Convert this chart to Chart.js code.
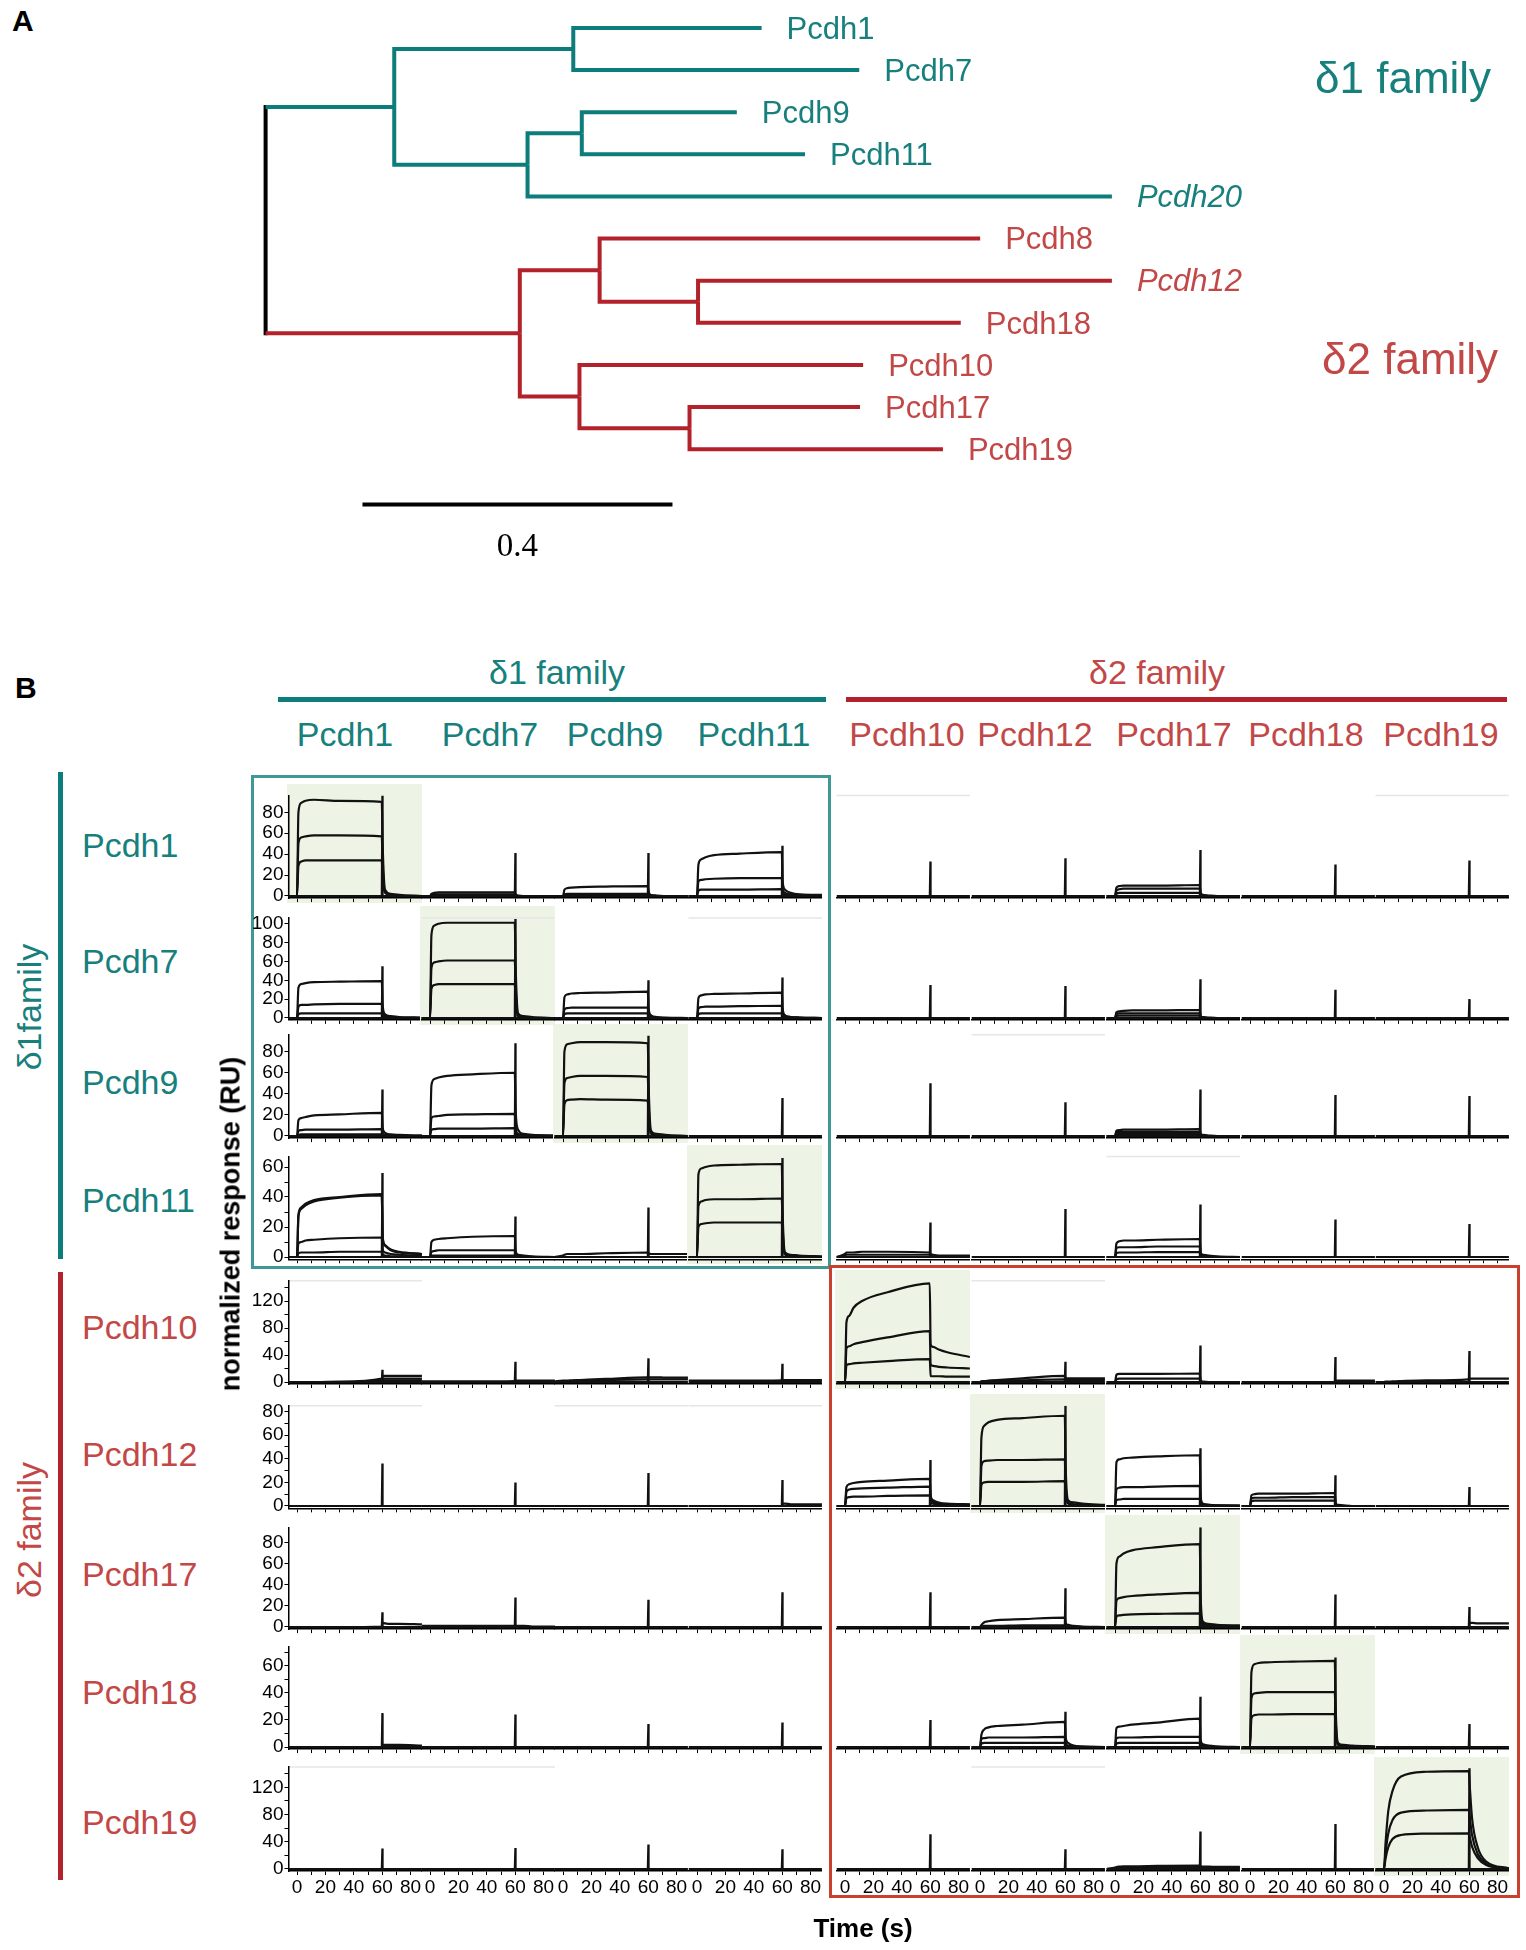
<!DOCTYPE html>
<html>
<head>
<meta charset="utf-8">
<script src="https://cdn.jsdelivr.net/npm/chart.js@4.4.1/dist/chart.umd.min.js"></script>
<style>
  html, body { margin: 0; padding: 0; background: #fff; }
  #page { position: relative; width: 1526px; height: 1950px; overflow: hidden;
          font-family: "Liberation Sans", Arial, sans-serif; }
  .txt { position: absolute; white-space: nowrap; line-height: 1; }
  .box { position: absolute; box-sizing: border-box; }
  canvas { position: absolute; }
</style>
</head>
<body>
<div id="page"></div>
<script>
// ---- A: tree data ----
const leafNames = ['Pcdh1', 'Pcdh7', 'Pcdh9', 'Pcdh11', 'Pcdh20', 'Pcdh8', 'Pcdh12', 'Pcdh18', 'Pcdh10', 'Pcdh17', 'Pcdh19'];
const leafItalic = [false, false, false, false, true, false, true, false, false, false, false];
const leafFamily = [1, 1, 1, 1, 1, 2, 2, 2, 2, 2, 2];
const leafDepth = [0.640, 0.766, 0.608, 0.696, 1.092, 0.922, 1.092, 0.897, 0.771, 0.767, 0.874];
// internal nodes: [child, child, depth]; leaves are 0..10, nodes continue from 11
const treeNodes = [
  [0, 1, 0.397],
  [2, 3, 0.408],
  [12, 4, 0.338],
  [11, 13, 0.166],
  [6, 7, 0.558],
  [5, 15, 0.431],
  [9, 10, 0.547],
  [8, 17, 0.405],
  [16, 18, 0.328],
  [14, 19, 0]
];
const scaleBarStart = 0.125;
const scaleBarLength = 0.4;
const scaleBarRow = 11.31;

// ---- B: SPR grid data ----
const proteins = ['Pcdh1', 'Pcdh7', 'Pcdh9', 'Pcdh11', 'Pcdh10', 'Pcdh12', 'Pcdh17', 'Pcdh18', 'Pcdh19'];
const proteinFamily = [1, 1, 1, 1, 2, 2, 2, 2, 2];
const timeGrid = [-6, 0, 1, 3, 6, 12, 30, 59.7, 60.3, 62, 66, 72, 88];
const baselineTrace = [0, 0, 0, 0, 0, 0, 0, 0, 0, 0, 0, 0, 0];
const spikeTimes = [59.6, 60, 60.4];
const xTickValues = [0, 10, 20, 30, 40, 50, 60, 70, 80];
const xTickLabels = [0, 20, 40, 60, 80];
const rowYMax = [96, 106, 96, 67, 150, 85, 95, 74, 150];
const rowYMin = [-2, -2, -2, -1.5, -3, -2, -2, -1.5, -3];
const rowTicks = [
  [0, 20, 40, 60, 80], [0, 20, 40, 60, 80, 100], [0, 20, 40, 60, 80],
  [0, 10, 20, 30, 40, 50, 60], [0, 20, 40, 60, 80, 100, 120, 140],
  [0, 10, 20, 30, 40, 50, 60, 70, 80], [0, 20, 40, 60, 80],
  [0, 10, 20, 30, 40, 50, 60, 70], [0, 20, 40, 60, 80, 100, 120, 140]
];
const rowTickLabels = [
  [0, 20, 40, 60, 80], [0, 20, 40, 60, 80, 100], [0, 20, 40, 60, 80], [0, 20, 40, 60],
  [0, 40, 80, 120], [0, 20, 40, 60, 80], [0, 20, 40, 60, 80], [0, 20, 40, 60], [0, 40, 80, 120]
];
// spike height at the end of injection, per row (analyte) and column (surface)
const spikeHeights = [
  [96, 41, 41, 48, 33, 36, 44, 30, 34],
  [55, 105, 40, 43, 35, 34, 41, 30, 20],
  [44, 88, 95, 36, 50, 32, 44, 39, 38],
  [56, 27, 33, 66, 23, 32, 35, 25, 22],
  [18, 30, 35, 27, 0, 30, 54, 37, 46],
  [36, 20, 28, 22, 39, 85, 49, 26, 16],
  [14, 28, 26, 33, 33, 37, 95, 31, 19],
  [25, 24, 17, 18, 20, 26, 37, 66, 17],
  [30, 31, 36, 29, 51, 29, 55, 66, 148]
];
// panels whose faint frame edge shows in the scan
const framedPanels = [[0, 4], [0, 8], [1, 1], [1, 3], [2, 5], [3, 6], [4, 0], [4, 5], [5, 0], [5, 2], [5, 3], [8, 0], [8, 1], [8, 5]];
// sensorgram values at timeGrid, one list of traces per column
const curvesPcdh1 = [
  [[0, 0, 80, 89, 91, 92, 91, 90, 50, 6, 2, 1, 0], [0, 0, 50, 56, 57, 58, 58, 57, 30, 4, 1, 0, 0], [0, 0, 29, 33, 34, 34, 34, 34, 18, 3, 1, 0, 0]],
  [[0, 0, 2, 3, 3.5, 3.5, 3.5, 3.5, 1.5, 0.5, 0, 0, 0], [0, 0, 1, 1.5, 1.5, 1.5, 1.5, 1.5, 0.5, 0, 0, 0, 0]],
  [[0, 0, 6, 7.5, 8, 8.5, 9, 9.5, 4, 1, 0.5, 0, 0], [0, 0, 1.5, 2, 2, 2, 2, 2, 1, 0.5, 0, 0, 0]],
  [[0, 0, 30, 35, 37, 39, 40.5, 42, 14, 6, 3, 1.5, 1], [0, 0, 14, 15.5, 16, 16.5, 17, 17, 7, 3, 1.5, 1, 0.5], [0, 0, 5, 6, 6, 6, 6, 6.5, 3, 1.5, 0.5, 0, 0]],
  [], [],
  [[0, 0, 8, 9.5, 10, 10, 10, 10.5, 3, 1, 0.5, 0, 0], [0, 0, 5, 6.5, 7, 7, 7, 7, 2, 1, 0, 0, 0], [0, 0, 2, 3, 3, 3, 3, 3, 1, 0, 0, 0, 0]],
  [], []
];
const curvesPcdh7 = [
  [[0, 0, 32, 36, 37, 38, 38.5, 39, 14, 4, 2, 1, 0.5], [0, 0, 12, 14, 14, 14.5, 15, 15, 5, 2, 1, 0.5, 0], [0, 0, 4, 5, 5, 5, 5, 5, 2, 1, 0, 0, 0]],
  [[0, 0, 88, 98, 100, 101, 101, 101, 55, 5, 2, 1, 0], [0, 0, 53, 59, 60, 61, 61, 61, 33, 3, 1, 0, 0], [0, 0, 31, 35, 36, 36, 36, 36, 20, 2, 1, 0, 0]],
  [[0, 0, 22, 25, 26, 26.5, 27, 28, 10, 3, 1, 0.5, 0], [0, 0, 9, 10.5, 11, 11, 11, 11, 4, 1.5, 0.5, 0, 0], [0, 0, 4, 5, 5, 5, 5, 5, 2, 1, 0, 0, 0]],
  [[0, 0, 21, 24, 25, 25.5, 26, 27, 10, 3, 1, 0.5, 0], [0, 0, 10, 11.5, 12, 12, 12.5, 13, 5, 2, 1, 0.5, 0], [0, 0, 4, 5, 5, 5, 5, 5, 2, 1, 0, 0, 0]],
  [], [],
  [[0, 0, 6, 7, 7.5, 8, 8, 8.5, 2, 1, 0.5, 0, 0], [0, 0, 4, 5, 5, 5, 5, 5, 1.5, 0.5, 0, 0, 0], [0, 0, 2, 2.5, 2.5, 2.5, 2.5, 2.5, 1, 0, 0, 0, 0]],
  [], []
];
const curvesPcdh9 = [
  [[0, 0, 15, 17, 18, 19.5, 20.5, 22, 8, 3, 1.5, 1, 0.5], [0, 0, 5, 5.5, 6, 6, 6, 6.5, 2, 1, 0.5, 0, 0], [0, 0, 1, 1.5, 1.5, 1.5, 1.5, 1.5, 1, 0.5, 0, 0, 0]],
  [[0, 0, 48, 54, 55.5, 57, 58.5, 60, 25, 6, 2, 1, 0.5], [0, 0, 17, 18.5, 19, 20, 20.5, 21, 8, 2, 1, 0.5, 0], [0, 0, 6, 6.5, 7, 7, 7, 7.5, 3, 1, 0.5, 0, 0]],
  [[0, 0, 80, 87, 88, 89, 89, 88, 48, 5, 2, 1, 0], [0, 0, 50, 55, 56, 57, 57, 56, 30, 3, 1, 0, 0], [0, 0, 30, 34, 34.5, 35, 34.5, 33.5, 18, 2, 1, 0, 0]],
  [], [], [],
  [[0, 0, 5, 5.5, 6, 6, 6, 6.5, 2, 1, 0.5, 0, 0], [0, 0, 3.5, 4, 4, 4, 4, 4, 1, 0.5, 0, 0, 0], [0, 0, 1.5, 2, 2, 2, 2, 2, 0.5, 0, 0, 0, 0]],
  [], []
];
const curvesPcdh11 = [
  [[0, 0, 28, 33, 35.5, 38, 40, 42, 14, 8, 5, 3.5, 2], [0, 0, 27, 32, 34.5, 37, 39.5, 41, 13, 7.5, 4.5, 3, 2], [0, 0, 9, 10, 11, 11.5, 12.5, 13, 5, 3, 2, 1.5, 1], [0, 0, 2.5, 3, 3, 3, 3.5, 3.5, 1.5, 1, 0.5, 0.5, 0]],
  [[0, 0, 10, 11.5, 12, 12.5, 13.5, 14, 4, 1.5, 1, 0.5, 0], [0, 0, 3.5, 4, 4.5, 4.5, 4.5, 4.5, 1.5, 0.5, 0, 0, 0], [0, 0, 1, 1, 1, 1, 1, 1, 0.5, 0, 0, 0, 0]],
  [[0, 1, 1.5, 2, 2, 2, 2.5, 3, 2.5, 2, 2, 2, 2]],
  [[0, 0, 55, 59, 60, 61, 61.5, 62, 30, 3, 1.5, 1, 0.5], [0, 0, 34, 37, 38, 38.5, 38.5, 39, 20, 2, 1, 0.5, 0], [0, 0, 20, 22, 22.5, 23, 23, 23, 12, 1.5, 0.5, 0, 0]],
  [[0, 2, 3, 3, 3, 3.5, 3.5, 3, 2, 1.5, 1, 1, 1], [0, 1, 1.5, 1.5, 1.5, 1.5, 1.5, 1.5, 1, 0.5, 0.5, 0.5, 0.5]],
  [],
  [[0, 0, 9, 10.5, 11, 11, 11.5, 12, 3, 1.5, 1, 0.5, 0], [0, 0, 6, 6.5, 6.5, 6.5, 7, 7, 2, 1, 0.5, 0, 0], [0, 0, 2.5, 3, 3, 3, 3.3, 3.3, 1, 0.5, 0, 0, 0]],
  [], []
];
const curvesPcdh10 = [
  [[0, 0, 0, 0, 0, 0, 0.5, 5, 9, 9, 9, 9, 9], [0, 0, 0, 0, 0, 0, 0, 3, 5, 5, 5, 5, 5], [0, 0, 0, 0, 0, 0, 0, 1.5, 2.5, 2.5, 2.5, 2.5, 2.5]],
  [[1, 1, 1, 1, 1, 1, 1, 1.5, 2, 2, 2, 2, 2]],
  [[1, 2, 2, 2, 2.5, 3, 4.5, 7, 7, 7, 7, 6.5, 6.5], [0, 1, 1, 1, 1.5, 2, 3, 4, 4, 4, 4, 4, 4]],
  [[2, 2, 2, 2, 2, 2, 2, 2.5, 3, 3, 3, 3, 3]],
  [[0, 0, 88, 98, 110, 120, 133, 146, 56, 52, 48, 44, 37], [0, 0, 50, 53, 56, 59, 66, 75.5, 26, 24, 22.5, 21.5, 20], [0, 0, 25, 26.5, 27.5, 28.5, 31, 34, 9, 8.5, 8.5, 8, 8]],
  [[0, 0, 1, 1.5, 2, 3, 5.5, 9, 6, 5.5, 5.5, 5.5, 5.5], [0, 0, 0.5, 1, 1, 1.5, 2.5, 4, 3, 3, 3, 3, 3]],
  [[0, 0, 11, 12, 12, 12, 12, 12.5, 1, 0.5, 0, 0, 0], [0, 0, 4, 5, 5, 5, 5, 5, 1, 0, 0, 0, 0]],
  [[0, 0, 0, 0, 0, 0, 0, 0, 2, 2, 2, 2, 2]],
  [[0, 0, 0.5, 0.5, 1, 1.5, 2.5, 4, 5, 5, 5, 5, 5]]
];
const curvesPcdh12 = [
  [], [], [],
  [[0, 0, 0, 0, 0, 0, 0, 0, 2, 2, 1.5, 1.5, 1.5]],
  [[0, 0, 16, 18.5, 19.5, 20.5, 21.5, 23, 9, 5, 3, 2, 1.5], [0, 0, 12, 14, 14.5, 15, 15.5, 16.5, 6, 3.5, 2, 1.5, 1], [0, 0, 6.5, 7.5, 8, 8, 8.5, 9, 3, 2, 1, 1, 0.5]],
  [[0, 0, 58, 68, 71, 73, 74.5, 76.5, 35, 5, 3, 2, 1], [0, 0, 34, 38, 38.5, 39, 39, 39.5, 18, 3, 1.5, 1, 0.5], [0, 0, 18, 20, 20.5, 20.5, 20.5, 21, 10, 2, 1, 0.5, 0]],
  [[0, 0, 37, 39.5, 40.5, 41, 42, 43, 8, 2, 1, 0.5, 0.5], [0, 0, 14, 15.5, 16, 16, 16.5, 17, 5, 1.5, 1, 0.5, 0], [0, 0, 5, 5.5, 6, 6, 6, 6, 2, 1, 0.5, 0, 0]],
  [[0, 0, 9, 10, 10.5, 10.5, 10.5, 11, 2, 1, 0.5, 0, 0], [0, 0, 6.5, 7, 7, 7, 7.5, 7.5, 1.5, 0.5, 0, 0, 0], [0, 0, 4, 4.5, 4.5, 4.5, 4.5, 4.5, 1, 0, 0, 0, 0]],
  []
];
const curvesPcdh17 = [
  [[0, 0, 0, 0, 0, 0, 0, 0.5, 4, 3.5, 3, 3, 2.5]],
  [[1, 1, 1, 1, 1, 1, 1, 1, 1, 1, 1, 0.5, 0.5]],
  [], [], [],
  [[0, 0, 2, 4.5, 5.5, 6.5, 7.5, 9, 4, 2, 1, 0.5, 0], [0, 0, 0.5, 1, 1, 1, 1.5, 1.5, 1, 0.5, 0, 0, 0]],
  [[0, 0, 60, 67, 70, 73, 76, 79, 30, 5, 3, 2, 1.5], [0, 0, 25, 27.5, 28.5, 29.5, 31, 32.5, 14, 3, 1.5, 1, 0.5], [0, 0, 10, 11, 11.5, 12, 12.5, 13, 5, 1.5, 1, 0.5, 0]],
  [],
  [[0, 0, 0, 0, 0, 0, 0, 0, 4, 4, 3.5, 3.5, 3.5]]
];
const curvesPcdh18 = [
  [[0, 0, 0, 0, 0, 0, 0, 0, 1.5, 1.5, 1.5, 1.5, 1]],
  [], [], [], [],
  [[0, 0, 9, 13, 14.5, 15.5, 16.5, 18.5, 7, 3, 1, 0.5, 0], [0, 0, 6, 6.5, 7, 7, 7, 7.5, 3, 1, 0.5, 0, 0], [0, 0, 2.5, 3, 3, 3, 3, 3, 1, 0.5, 0, 0, 0]],
  [[0, 0, 14, 15, 15.5, 16.5, 18, 21, 5, 2, 1, 0.5, 0], [0, 0, 6.5, 7, 7, 7, 7.5, 7.5, 2, 1, 0.5, 0, 0], [0, 0, 2.5, 3, 3, 3, 3, 3, 1, 0.5, 0, 0, 0]],
  [[0, 0, 55, 61, 62, 62.5, 63, 63.5, 30, 3, 1.5, 1, 0.5], [0, 0, 36, 39.5, 40, 40.5, 40.5, 40.5, 20, 2, 1, 0.5, 0], [0, 0, 21, 23.5, 24, 24, 24.3, 24.3, 12, 1.5, 0.5, 0, 0]],
  []
];
const curvesPcdh19 = [
  [], [], [], [], [], [],
  [[0, 2, 3, 3.5, 4, 4, 4.5, 5, 4, 3.5, 3.5, 3, 3], [0, 1, 1.5, 2, 2, 2, 2.5, 3, 2, 2, 1.5, 1.5, 1.5]],
  [],
  [[0, 0, 35, 85, 115, 136, 143, 144, 125, 75, 32, 11, 1], [0, 0, 22, 52, 72, 83, 86, 87, 78, 50, 22, 8, 0.5], [0, 0, 14, 32, 44, 50, 52, 52.5, 48, 33, 16, 6, 0]]
];
const panelCurves = [curvesPcdh1, curvesPcdh7, curvesPcdh9, curvesPcdh11, curvesPcdh10, curvesPcdh12, curvesPcdh17, curvesPcdh18, curvesPcdh19];

// ---- layout ----
const TEAL = '#17807d', TEAL_LINE = '#0c7d7a', TEAL_BOX = '#3f9896';
const RED = '#c24848', RED_LINE = '#b3222b', RED_BOX = '#c9402f';
const SHADE = '#edf3e5';
const FONT = '"Liberation Sans", Arial, sans-serif';
const colZeroPx = [297, 430, 563, 697, 845, 980, 1115, 1250, 1384];
const rowZeroPx = [896, 1018, 1136, 1257, 1382, 1506, 1627, 1747, 1869];
const rowPxPerUnit = [1.046, 0.943, 1.054, 1.5, 0.675, 1.18, 1.05, 1.355, 0.68];
const secPx = 1.42, xMin = -6, xMax = 88;

Chart.defaults.font.family = FONT;
Chart.defaults.color = '#000';

const page = document.getElementById('page');

function addText(str, x, baseline, size, color, o = {}) {
  const d = document.createElement('div');
  d.className = 'txt';
  d.textContent = str;
  d.style.fontSize = size + 'px';
  d.style.color = color;
  if (o.family) d.style.fontFamily = o.family;
  if (o.bold) d.style.fontWeight = 'bold';
  if (o.italic) d.style.fontStyle = 'italic';
  d.style.top = (baseline - (o.asc || 0.8465) * size) + 'px';
  d.style.left = x + 'px';
  if (o.center) d.style.transform = 'translateX(-50%)';
  page.appendChild(d);
  return d;
}

function addRotated(str, cx, cy, size, color, bold) {
  const d = document.createElement('div');
  d.className = 'txt';
  d.textContent = str;
  d.style.fontSize = size + 'px';
  d.style.color = color;
  if (bold) d.style.fontWeight = 'bold';
  d.style.left = cx + 'px';
  d.style.top = cy + 'px';
  d.style.transform = 'translate(-50%, -50%) rotate(-90deg)';
  page.appendChild(d);
}

function addBox(left, top, w, h, css) {
  const d = document.createElement('div');
  d.className = 'box';
  Object.assign(d.style, { left: left + 'px', top: top + 'px', width: w + 'px', height: h + 'px' }, css);
  page.appendChild(d);
}

function addCanvas(left, top, w, h) {
  const c = document.createElement('canvas');
  c.width = w; c.height = h;
  c.style.left = left + 'px'; c.style.top = top + 'px';
  c.style.width = w + 'px'; c.style.height = h + 'px';
  page.appendChild(c);
  return c;
}

// ---- A: dendrogram ----
function buildTree() {
  const nodeY = leafNames.map((_, i) => i);
  const nodeDepth = leafDepth.slice();
  const nodeFam = leafFamily.slice();
  treeNodes.forEach(([a, b, d]) => {
    nodeY.push((nodeY[a] + nodeY[b]) / 2);
    nodeDepth.push(d);
    nodeFam.push(nodeFam[a] === nodeFam[b] ? nodeFam[a] : 0);
  });
  const famColor = f => f === 1 ? TEAL_LINE : f === 2 ? RED_LINE : '#000';
  const line = (pts, color, cap) => ({
    data: pts.map(([x, y]) => ({ x, y })), showLine: true, borderColor: color, borderWidth: 4,
    pointRadius: 0, borderJoinStyle: 'miter', borderCapStyle: cap || 'butt', clip: false
  });
  const datasets = [];
  treeNodes.forEach(([a, b, d], j) => {
    const k = leafNames.length + j;
    [a, b].forEach(ch => {
      if (nodeFam[k] === 0) {
        datasets.push(line([[d, nodeY[ch]], [nodeDepth[ch], nodeY[ch]]], famColor(nodeFam[ch])));
      } else {
        datasets.push(line([[d, nodeY[k]], [d, nodeY[ch]], [nodeDepth[ch], nodeY[ch]]], famColor(nodeFam[k])));
      }
    });
    if (nodeFam[k] === 0) datasets.push(line([[d, nodeY[a]], [d, nodeY[b]]], '#000', 'square'));
  });
  datasets.push(line([[scaleBarStart, scaleBarRow], [scaleBarStart + scaleBarLength, scaleBarRow]], '#000'));

  const canvas = addCanvas(0, 0, 1526, 600);
  const chart = new Chart(canvas, {
    type: 'scatter',
    data: { datasets },
    options: {
      responsive: false, animation: false, events: [],
      layout: { padding: { left: 265.6, right: 97.9, top: 27.9, bottom: 24.4 } },
      plugins: { legend: { display: false }, tooltip: { enabled: false } },
      scales: {
        x: { type: 'linear', min: 0, max: 1.5, display: false },
        y: { type: 'linear', min: 0, max: 13, reverse: true, display: false }
      }
    }
  });
  const xs = chart.scales.x, ys = chart.scales.y;
  leafNames.forEach((name, i) => {
    addText(name, xs.getPixelForValue(leafDepth[i]) + 25, ys.getPixelForValue(i) + 11, 31,
      leafFamily[i] === 1 ? TEAL : RED, { italic: leafItalic[i] });
  });
  addText(String(scaleBarLength), xs.getPixelForValue(scaleBarStart + scaleBarLength / 2),
    ys.getPixelForValue(scaleBarRow) + 52.6, 33, '#000',
    { center: true, family: '"Liberation Serif", "Times New Roman", serif', asc: 0.8375 });
}

// ---- B: one small sensorgram ----
const shadePlugin = {
  id: 'shade',
  beforeDraw(chart, args, opts) {
    const { ctx, chartArea, scales: { x, y } } = chart;
    ctx.save();
    if (opts.on) {
      ctx.fillStyle = SHADE;
      ctx.fillRect(x.getPixelForValue(0) - 10, y.getPixelForValue(0) - 112, 135, 119);
    }
    if (opts.frame) {
      ctx.strokeStyle = '#e6e6e6';
      ctx.lineWidth = 1.5;
      ctx.beginPath();
      ctx.moveTo(chartArea.left, chartArea.top);
      ctx.lineTo(chartArea.right, chartArea.top);
      ctx.stroke();
    }
    ctx.restore();
  }
};

function buildPanel(r, c) {
  const x0 = colZeroPx[c], y0 = rowZeroPx[r], ppu = rowPxPerUnit[r];
  const areaL = x0 + xMin * secPx, areaR = x0 + xMax * secPx;
  const areaT = y0 - rowYMax[r] * ppu, areaB = y0 - rowYMin[r] * ppu;
  const cl = Math.floor(areaL - 50), ct = Math.floor(areaT - 16);
  const cw = Math.ceil(areaR + 8 - cl), chh = Math.ceil(areaB + 34 - ct);
  const padL = areaL - cl, padT = areaT - ct;
  const padR = cw - (areaR - cl), padB = chh - (areaB - ct);
  const canvas = addCanvas(cl, ct, cw, chh);
  const showY = c === 0;
  const framed = framedPanels.some(([fr, fc]) => fr === r && fc === c);

  const trace = (vals, w) => ({
    data: timeGrid.map((t, i) => ({ x: t, y: vals[i] })), showLine: true,
    borderColor: '#111', borderWidth: w, pointRadius: 0, cubicInterpolationMode: 'monotone'
  });
  const datasets = [trace(baselineTrace, 2.2)];
  panelCurves[r][c].forEach(v => datasets.push(trace(v, 2.2)));
  const h = spikeHeights[r][c];
  if (h > 0) {
    datasets.push({
      data: spikeTimes.map((t, i) => ({ x: t, y: i === 1 ? h : 0 })), showLine: true,
      borderColor: '#111', borderWidth: 1.8, pointRadius: 0, tension: 0
    });
  }

  const tickFont = { size: 19, family: FONT };
  const yScale = {
    type: 'linear', min: rowYMin[r], max: rowYMax[r], display: showY,
    border: { display: true, color: '#000', width: 1.5 },
    grid: { drawOnChartArea: false, drawTicks: true, tickLength: 4, color: '#000', lineWidth: 1 },
    ticks: {
      autoSkip: false, padding: 1, font: tickFont, color: '#000',
      callback: v => rowTickLabels[r].includes(v) ? String(v) : ''
    },
    afterBuildTicks: ax => { ax.ticks = rowTicks[r].map(v => ({ value: v })); }
  };
  if (showY) yScale.afterFit = ax => { ax.width = padL; };

  new Chart(canvas, {
    type: 'scatter',
    data: { datasets },
    plugins: [shadePlugin],
    options: {
      responsive: false, animation: false, events: [],
      layout: { padding: { left: showY ? 0 : padL, right: padR, top: padT, bottom: 0 } },
      plugins: { legend: { display: false }, tooltip: { enabled: false }, shade: { on: r === c, frame: framed } },
      scales: {
        x: {
          type: 'linear', min: xMin, max: xMax,
          border: { display: true, color: '#000', width: 1.5 },
          grid: { drawOnChartArea: false, drawTicks: true, tickLength: 4, color: '#000', lineWidth: 1 },
          ticks: {
            autoSkip: false, maxRotation: 0, padding: 1, font: tickFont, color: '#000',
            callback: v => (r === proteins.length - 1 && xTickLabels.includes(v)) ? String(v) : ''
          },
          afterBuildTicks: ax => { ax.ticks = xTickValues.map(v => ({ value: v })); },
          afterFit: ax => { ax.height = padB; }
        },
        y: yScale
      }
    }
  });
}

// ---- page ----
addText('A', 12, 31, 30, '#000', { bold: true });
addText('B', 15, 698, 30, '#000', { bold: true });
buildTree();
addText('δ1 family', 1315, 93, 44, TEAL);
addText('δ2 family', 1322, 374, 44, RED);

// family headers and bars
addText('δ1 family', 557, 684, 34, TEAL, { center: true });
addText('δ2 family', 1157, 684, 34, RED, { center: true });
addBox(278, 697, 548, 5, { background: TEAL_LINE });
addBox(846, 697, 661, 5, { background: RED_LINE });
addBox(58, 772, 5, 487, { background: TEAL_LINE });
addBox(58, 1272, 5, 608, { background: RED_LINE });
addRotated('δ1family', 29, 1007, 34, TEAL);
addRotated('δ2 family', 29, 1530, 34, RED);

const colHeadX = [345, 490, 615, 754, 907, 1035, 1174, 1306, 1441];
const rowLabelBase = [857, 973, 1094, 1212, 1339, 1466, 1586, 1704, 1834];
proteins.forEach((p, i) => {
  const col = proteinFamily[i] === 1 ? TEAL : RED;
  addText(p, colHeadX[i], 746, 34, col, { center: true });
  addText(p, 82, rowLabelBase[i], 34, col);
});

// homophilic blocks
addBox(250.5, 774.5, 580, 494, { border: '3px solid ' + TEAL_BOX });
addBox(828.5, 1265, 691.5, 633, { border: '3px solid ' + RED_BOX });

for (let r = 0; r < proteins.length; r++) {
  for (let c = 0; c < proteins.length; c++) buildPanel(r, c);
}

addRotated('normalized  response (RU)', 231, 1224, 27, '#000', true);
addText('Time (s)', 863, 1937, 26, '#000', { bold: true, center: true });
</script>
</body>
</html>
